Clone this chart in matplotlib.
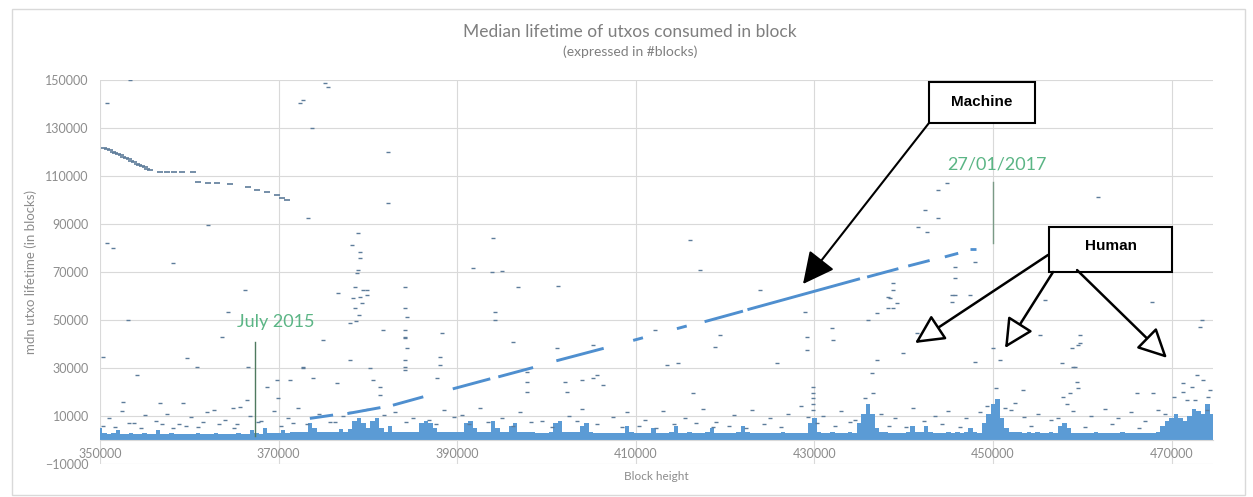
import matplotlib.pyplot as plt
import matplotlib.patches as patches
import numpy as np

plt.rcParams['font.family'] = ['Lato', 'DejaVu Sans']

# dense floor of the cloud: upper edge (thousands of blocks), one value every 500 blocks
band_start = 350000
band_step = 500
band_top_k = [
    5, 3, 2.5, 3, 4, 2.5, 2.5, 3, 2.5, 2.5, 3, 2.5, 2.5, 4, 2.5, 2.5, 3, 2.5, 2.5, 2.5,
    2.5, 2.5, 3, 2.5, 2.5, 2.5, 3, 2.5, 2.5, 2.5, 2.5, 3, 2.5, 2.5, 4, 3, 2.5, 5, 3, 3,
    3, 4, 3, 3.5, 3.5, 3.5, 3.5, 7, 5, 3.5, 3.5, 3.5, 3.5, 3.5, 4.5, 3.5, 4.5, 8, 9, 7,
    5, 8, 9, 5, 3.5, 6, 3.5, 3.5, 3.5, 3.5, 3.5, 3.5, 7, 8, 7, 5, 3.5, 3.5, 3.5, 3.5,
    3.5, 3.5, 7, 8, 5, 3.5, 3.5, 3.5, 8, 5, 3.5, 3.5, 6, 7, 3.5, 3.5, 3.5, 3.5, 3, 3,
    3, 3.5, 7, 8, 3.5, 3.5, 3.5, 3.5, 6, 7, 3.5, 3, 3, 3, 3, 3, 3, 3, 6, 3.5,
    3, 3, 3, 3, 5, 3, 3, 3, 3.5, 6, 3, 3, 3.5, 3, 3, 3, 3.5, 5, 3, 3,
    3, 3, 3, 3.5, 6, 3.5, 3, 3, 3, 3, 3, 3, 3, 3.5, 3, 3, 3, 3, 3, 7,
    9, 3.5, 3, 3, 3.5, 3, 3, 3, 3.5, 3, 7, 11, 15, 11, 5, 3.5, 3.5, 3, 3, 3,
    3, 3.5, 6, 3.5, 3.5, 6, 3.5, 3, 3, 3, 3.5, 3, 3.5, 3, 3.5, 5, 3.5, 3, 7, 11,
    15, 17, 9, 5, 3.5, 3.5, 3.5, 3, 3.5, 3, 3.5, 3, 3, 3.5, 3, 6, 7, 5, 3, 3,
    3, 3, 3, 3.5, 3, 3, 3, 3, 3, 3.5, 3, 3, 3, 3, 3, 3, 3, 3.5, 6, 8,
    9, 11, 9, 8, 10, 13, 12, 11, 15, 11,
]

# early high-lifetime series (top left)
old_x = [350500, 350800, 351100, 351400, 351700, 352000, 352300, 352600, 352900, 353200,
         353500, 353800, 354100, 354400, 354700, 355000, 355300, 355600, 356700, 357500,
         358300, 359200, 360400, 360970, 362090, 363100, 364560, 366570, 367580, 368700,
         369820, 370400, 370940]
old_y = [121500, 121100, 120700, 120200, 119700, 119100, 118600, 118000, 117400, 116900,
         116300, 115700, 115200, 114700, 114100, 113600, 113000, 112500, 111700, 111700,
         111700, 111700, 111700, 107500, 107100, 107100, 106700, 105400, 104200, 103300,
         102100, 101000, 100000]

# the "machine" ramp, drawn as dashes
machine_x0 = [373500, 377700, 382800, 389500, 394600, 401100, 409700, 414600, 417700, 422500, 435900, 440500, 444600]
machine_x1 = [376100, 381400, 386200, 393700, 398500, 406400, 410800, 415700, 422000, 435100, 439400, 442900, 446100]
machine_y0 = [9000, 11000, 14500, 21300, 26300, 33000, 41500, 46400, 49300, 54300, 67900, 72500, 76300]
machine_y1 = [10400, 13500, 18000, 25500, 30200, 38200, 42600, 47500, 53700, 67200, 71400, 74800, 77800]
machine_end_x = [447760]
machine_end_y = [79600]

# scattered blocks above the floor
scatter_x = [
    350780, 353360, 350340, 351460, 350780, 358180, 366240, 364330, 353140, 363660, 374970, 359740,
    360860, 366570, 354140, 368700, 369820, 372730, 376540, 356720, 359300, 352580, 364890, 361980,
    366460, 365680, 369930, 381350, 377990, 379110, 379890, 381690, 384150, 384150, 384150,
    378890, 378220, 379110, 379110, 378890, 378780, 378560, 379450, 378330, 379900, 376650, 373300,
    382250, 382250, 373740, 372400, 372730, 375200, 375530, 394000, 391770, 393900, 362090,
    378500, 379000, 378700, 379300,
    384150, 384370, 384150, 384150, 384370, 384150, 384150, 388300, 388070, 388070, 387740, 394230,
    394230, 396800, 401290, 395010, 396250, 401180, 397810, 397810, 397810, 402070, 402300, 403970,
    405210, 406330, 405650, 413490, 414720, 416400, 405210, 377990, 380230, 380570, 381350, 372730,
    373850, 371280,
    444850, 443840, 441600, 442610, 438800, 438800, 438240, 439250, 438240, 437010, 436000, 445740,
    445740, 445740, 447420, 447980, 428950, 429170, 429170, 431970, 432080, 425810, 418870, 441490,
    439920, 437010, 436450, 450780, 447980, 450000,
    438460, 438800, 445400, 445400, 459740, 459520, 457730, 458960, 467580, 473400, 473180, 467800,
    459740, 458850, 459180, 459410, 459520, 458620, 457840, 466120, 467920, 452460, 453360, 471280,
    473520, 472840, 472280, 474070, 471730, 473970,
    442390, 443840, 461760, 464200, 455820, 455260, 416070, 417190, 423900, 412150, 419430,
    429840, 429840, 429840, 429840, 429840,
]
scatter_y = [
    140400, 150000, 34600, 80000, 82100, 73700, 62500, 53300, 50000, 42900, 41700, 34200,
    30400, 30400, 27100, 22100, 25000, 30400, 23700, 15400, 15400, 15800, 13300, 11700,
    16700, 13800, 17500, 18800, 48800, 59600, 62500, 45800, 63800, 42900, 30400,
    86300, 81300, 78300, 75800, 70800, 69600, 63800, 62500, 59200, 60400, 61300, 92500,
    120000, 98800, 130000, 140400, 141700, 148800, 147100, 84200, 71700, 70000, 89600,
    55000, 52000, 49500, 57000,
    55000, 51300, 45800, 42500, 38300, 33300, 29200, 44600, 34600, 31300, 25800, 53300,
    50000, 63800, 64200, 70400, 40800, 38300, 28300, 24200, 20000, 24200, 20000, 25000,
    25800, 22900, 27100, 31300, 32100, 19600, 39600, 33300, 30000, 25000, 22100, 30000,
    25800, 25000,
    107100, 92500, 88800, 86700, 65400, 62500, 59600, 57100, 55000, 52900, 50000, 72100,
    67500, 60400, 60400, 74200, 53300, 42900, 37500, 46700, 41700, 32100, 38800, 44600,
    36300, 33300, 27900, 33300, 32500, 38300,
    59200, 55000, 60400, 57500, 43700, 39600, 32100, 30400, 77100, 50000, 47100, 57500,
    40400, 38300, 30400, 24200, 21700, 19600, 17900, 19600, 19600, 15400, 20800, 23800,
    25000, 27100, 22100, 17900, 16700, 12500,
    95800, 104200, 101200, 81200, 58300, 43700, 83300, 70800, 62500, 45800, 43700,
    22000, 19600, 17500, 15000, 12500,
]

# low outliers just above the floor
low_x = [351000, 352500, 353800, 355000, 356300, 357500, 358800, 360200, 361500, 362800, 364000, 365300,
         366800, 368000, 369500, 371000, 372200, 374500, 375800, 377200, 380000, 383000, 385000, 388500,
         390500, 392500, 395000, 397000, 399500, 402500, 404000, 407500, 409000, 411000, 413000, 415500,
         417500, 419000, 421000, 423000, 425000, 427000, 428500, 431000, 433000, 434500, 437500, 439000,
         441000, 443500, 445000, 447000, 448500, 452000, 453500, 455000, 456500, 459000, 461000, 462500,
         464000, 465500, 467000, 468500,
         350300, 351700, 353200, 354600, 356900, 358200, 359600, 361000, 363300, 365000, 367700, 370300,
         371600, 373200, 376300, 378000, 379600, 381800, 384300, 386800, 387600, 389600, 391300, 393400,
         396300, 398300, 400600, 403400, 405600, 408400, 410300, 412300, 414300, 416700, 418600, 420400,
         422300, 424300, 426300, 429300, 430300, 432300, 434000, 435700, 436600, 438300, 440300, 442300,
         444300, 446300, 449300, 450300, 451300, 454300, 457300, 458300, 460300, 463300, 466300, 469300,
         470300, 471300, 472600, 474300]
low_y = [9000, 12000, 7000, 10500, 8000, 11000, 6500, 9500, 7500, 12500, 8500, 6500,
         10000, 8000, 12000, 9000, 13500, 11000, 7500, 10000, 13000, 11500, 9000, 12500,
         10500, 13500, 9000, 11500, 8000, 10000, 13000, 9500, 11500, 8500, 12000, 9000,
         13000, 7500, 10500, 12500, 9000, 11000, 14000, 10000, 12000, 8500, 11000, 9000,
         13500, 10000, 12000, 9000, 11500, 12500, 9500, 11000, 8500, 12000, 10000, 13000,
         9000, 11500, 8000, 12500,
         6000, 5500, 7000, 5000, 6500, 5000, 6000, 5500, 6500, 5000, 7500, 6000,
         7000, 6500, 7500, 11500, 12500, 10500, 7500, 8500, 6500, 9500, 6500, 7500,
         6000, 7500, 5500, 8000, 6500, 5500, 6000, 5000, 6500, 7000, 5500, 6000,
         5000, 6500, 5500, 9500, 7000, 6000, 7500, 17500, 19500, 6000, 5500, 8000,
         6500, 5500, 14000, 21500, 13500, 6000, 9000, 15000, 5500, 6500, 5000, 11000,
         18000, 20000, 16500, 21000]

x_ticks = [350000, 370000, 390000, 410000, 430000, 450000, 470000]
y_ticks = [-10000, 10000, 30000, 50000, 70000, 90000, 110000, 130000, 150000]

W, H = 1253, 497
fig = plt.figure(figsize=(W / 100, H / 100), dpi=100)
fig.patches.append(patches.Rectangle((12 / W, 2 / H), 1233 / W, 486 / H, transform=fig.transFigure,
                                     fill=False, edgecolor='#d9d9d9', linewidth=1))
ax = fig.add_axes([100 / W, 33 / H, 1113 / W, 384 / H])

grid_col = '#d9d9d9'
text_col = '#8c8c8c'
ax.set_xlim(350000, 474630)
ax.set_ylim(-10000, 150000)
ax.set_xticks(x_ticks)
ax.set_yticks(y_ticks)
ax.grid(True, color=grid_col, linewidth=0.8)
ax.set_axisbelow(True)
for side in ['top', 'right', 'left']:
    ax.spines[side].set_visible(False)
ax.spines['bottom'].set_position(('data', 0))
ax.spines['bottom'].set_color(grid_col)
ax.tick_params(axis='both', length=0, labelsize=9, labelcolor=text_col)
ax.tick_params(axis='x', pad=6)
ax.tick_params(axis='y', pad=8)

# floor of the cloud
band_x = band_start + band_step * np.arange(len(band_top_k))
ax.bar(band_x, np.array(band_top_k) * 1000, width=band_step, color='#5b9bd5', linewidth=0, zorder=2)

dot_col = '#5d7c9a'
ax.scatter(low_x, low_y, marker='_', s=9, linewidths=1, color=dot_col, zorder=3)
ax.scatter(scatter_x, scatter_y, marker='_', s=9, linewidths=1, color=dot_col, zorder=3)
ax.scatter(old_x, old_y, marker='_', s=14, linewidths=1.2, color=dot_col, zorder=3)

for x0, x1, y0, y1 in zip(machine_x0, machine_x1, machine_y0, machine_y1):
    ax.plot([x0, x1], [y0, y1], color='#4f8fcf', linewidth=2.1, solid_capstyle='butt', zorder=4)
ax.scatter(machine_end_x, machine_end_y, marker='_', s=16, linewidths=2, color='#4f8fcf', zorder=4)

# date markers
green = '#5bb585'
ax.plot([367360, 367360], [41000, 1500], color='#4f7a5f', linewidth=1, zorder=5)
ax.text(369700, 49200, 'July 2015', color=green, fontsize=13, ha='center', va='center', zorder=6)
ax.plot([450030, 450030], [107500, 82100], color='#7a9a86', linewidth=1, zorder=5)
ax.text(450400, 115000, '27/01/2017', color=green, fontsize=13, ha='center', va='center', zorder=6)

# callout boxes
ax.add_patch(patches.Rectangle((442830, 132100), 11870, 17100, facecolor='white',
                               edgecolor='black', linewidth=1.5, zorder=7, clip_on=False))
ax.text(448760, 141000, 'Machine', fontsize=11, fontweight='bold', family='Liberation Sans',
        ha='center', va='center', zorder=8)
ax.add_patch(patches.Rectangle((456270, 70000), 13770, 18750, facecolor='white',
                               edgecolor='black', linewidth=1.5, zorder=7))
ax.text(463200, 81000, 'Human', fontsize=11, fontweight='bold', family='Liberation Sans',
        ha='center', va='center', zorder=8)

ax.annotate('', xy=(428720, 65000), xytext=(442830, 132100), zorder=8,
            arrowprops=dict(arrowstyle='-|>,head_length=1.3,head_width=0.65', mutation_scale=15,
                            fc='black', ec='black', lw=1.5, shrinkA=0, shrinkB=0))
for start, tip in [((456160, 77100), (441260, 40400)),
                   ((456720, 70000), (451340, 38300)),
                   ((459410, 70800), (469480, 34200))]:
    ax.annotate('', xy=tip, xytext=start, zorder=8,
                arrowprops=dict(arrowstyle='-|>,head_length=1.2,head_width=0.6', mutation_scale=15,
                                fc='white', ec='black', lw=1.8, shrinkA=0, shrinkB=0))

ax.set_xlabel('Block height', fontsize=8.5, color=text_col, labelpad=8)
ax.set_ylabel('mdn utxo lifetime (in blocks)', fontsize=9.5, color=text_col, labelpad=6)
fig.text(630 / W, 1 - 32 / H, 'Median lifetime of utxos consumed in block', fontsize=12.5,
         color='#7f7f7f', ha='center', va='center')
fig.text(630 / W, 1 - 52 / H, '(expressed in #blocks)', fontsize=10,
         color='#7f7f7f', ha='center', va='center')

fig.savefig('out.png', dpi=100)
